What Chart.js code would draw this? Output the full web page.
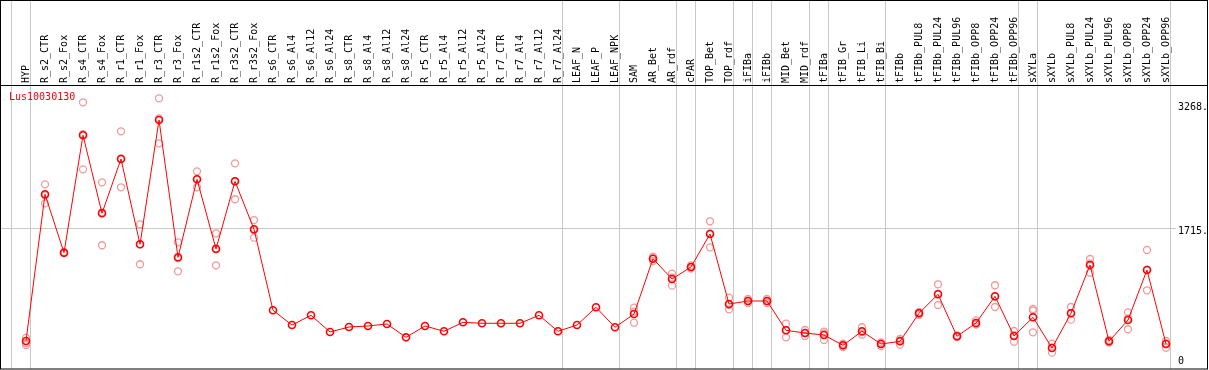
<!DOCTYPE html>
<html>
<head>
<meta charset="utf-8">
<script src="https://cdn.jsdelivr.net/npm/chart.js@4"></script>
<style>
  body { margin: 0; background: #fff; }
  #wrap { width: 1209px; height: 370px; position: relative; }
</style>
</head>
<body>
<div id="wrap"><canvas id="exprChart"></canvas></div>
<script>
// categories (samples)
const samples = ["HYP", "R_s2_CTR", "R_s2_Fox", "R_s4_CTR", "R_s4_Fox", "R_r1_CTR", "R_r1_Fox",
  "R_r3_CTR", "R_r3_Fox", "R_r1s2_CTR", "R_r1s2_Fox", "R_r3s2_CTR", "R_r3s2_Fox",
  "R_s6_CTR", "R_s6_Al4", "R_s6_Al12", "R_s6_Al24", "R_s8_CTR", "R_s8_Al4", "R_s8_Al12", "R_s8_Al24",
  "R_r5_CTR", "R_r5_Al4", "R_r5_Al12", "R_r5_Al24", "R_r7_CTR", "R_r7_Al4", "R_r7_Al12", "R_r7_Al24",
  "LEAF_N", "LEAF_P", "LEAF_NPK", "SAM", "AR_Bet", "AR_rdf", "cPAR", "TOP_Bet", "TOP_rdf",
  "iFIBa", "iFIBb", "MID_Bet", "MID_rdf", "tFIBa", "tFIB_Gr", "tFIB_Li", "tFIB_Bi", "tFIBb",
  "tFIBb_PUL8", "tFIBb_PUL24", "tFIBb_PUL96", "tFIBb_OPP8", "tFIBb_OPP24", "tFIBb_OPP96",
  "sXYLa", "sXYLb", "sXYLb_PUL8", "sXYLb_PUL24", "sXYLb_PUL96", "sXYLb_OPP8", "sXYLb_OPP24", "sXYLb_OPP96"];

// mean expression
const meanValues = [303, 2140, 1409, 2879, 1902, 2582, 1514, 3071, 1351, 2328, 1455, 2303, 1702,
  688, 503, 625, 416, 478, 491, 516, 349, 491, 425, 537, 525, 525, 525, 625, 425,
  503, 725, 475, 641, 1334, 1079, 1230, 1643, 766, 804, 804, 437, 403, 378, 249, 425, 265, 299,
  650, 888, 362, 528, 863, 366, 600, 215, 650, 1255, 299, 566, 1192, 265];

// replicates (null = not shown)
const rep1 = [341, 2265, 1418, 3292, 2290, 2929, 1764, 3342, 1539, 2428, 1652, 2528, 1818,
  null, null, null, null, null, null, null, null, null, null, null, null, null, null, null, null,
  null, null, null, 720, 1359, 1146, 1249, 1802, 845, 829, 829, 520, 441, 420, 269, 475, 240, 328,
  629, 1013, 372, 562, 1001, 428, 704, 269, 729, 1330, 316, 662, 1443, 303];
const rep2 = [253, 2027, 1405, 2453, 1502, 2228, 1264, 2779, 1176, 2228, 1251, 2078, 1597,
  null, null, null, null, null, null, null, null, null, null, null, null, null, null, null, null,
  null, null, null, 532, 1305, 996, 1211, 1476, 700, 779, 779, 349, 366, 316, 228, 382, 284, 257,
  666, 754, 353, 512, 729, 294, 412, 157, 570, 1158, 284, 450, 938, 219];
const rep3 = [278, 2128, 1405, 2892, 1915, 2590, 1514, 3091, 1339, 2328, 1463, 2303, 1691,
  null, null, null, null, null, null, null, null, null, null, null, null, null, null, null, null,
  null, null, null, 671, 1337, 1097, 1230, 1651, 754, 804, 804, 442, 403, 399, 249, 416, 272, 312,
  654, 897, 362, 511, 859, 374, 684, 220, 651, 1276, 299, 586, 1196, 274];

// right side tick labels
const tickValues = [3268, 1715, 0];
const tickLabels = ["3268.", "1715.", "0"];

// last sample of each group (separator lines)
const groupEnds = [-1, 0, 28, 31, 34, 35, 37, 38, 39, 41, 42, 45, 52, 53, 60];

const geneName = "Lus10030130";

function toPoints(arr) {
  return arr.map((v, i) => ({ x: i, y: v })).filter(p => p.y !== null);
}

const repStyle = {
  type: 'line',
  showLine: false,
  pointRadius: 3.5,
  pointBorderWidth: 1.3,
  pointBorderColor: '#f09a9a',
  pointBackgroundColor: 'rgba(0,0,0,0)'
};

const framePlugin = {
  id: 'framePlugin',
  beforeDatasetsDraw(chart) {
    const ctx = chart.ctx;
    const xs = chart.scales.x;
    const ys = chart.scales.y;
    ctx.save();
    ctx.strokeStyle = '#c8c8c8';
    ctx.lineWidth = 1;
    groupEnds.forEach(g => {
      const px = Math.round(xs.getPixelForValue(g + 0.23)) + 0.5;
      ctx.beginPath();
      ctx.moveTo(px, 0);
      ctx.lineTo(px, 369);
      ctx.stroke();
    });
    const gy = Math.round(ys.getPixelForValue(1715)) + 0.5;
    ctx.beginPath();
    ctx.moveTo(1, gy);
    ctx.lineTo(1176, gy);
    ctx.stroke();
    ctx.restore();
  },
  afterDraw(chart) {
    const ctx = chart.ctx;
    const xs = chart.scales.x;
    const ys = chart.scales.y;
    ctx.save();
    ctx.strokeStyle = '#000';
    ctx.lineWidth = 1;
    ctx.strokeRect(0.5, 0.5, 1207, 368.5);
    ctx.beginPath();
    ctx.moveTo(0, 85.5);
    ctx.lineTo(1208, 85.5);
    ctx.stroke();

    // rotated sample names
    ctx.fillStyle = '#000';
    ctx.font = '10px "DejaVu Sans Mono"';
    ctx.textAlign = 'left';
    ctx.textBaseline = 'middle';
    samples.forEach((s, i) => {
      ctx.save();
      ctx.translate(xs.getPixelForValue(i), 83);
      ctx.rotate(-Math.PI / 2);
      ctx.fillText(s, 0, 0);
      ctx.restore();
    });

    // right labels
    tickValues.forEach((v, k) => {
      const py = ys.getPixelForValue(v) + (v === 0 ? -3.5 : 3.5);
      ctx.fillText(tickLabels[k], 1178, py);
    });

    ctx.fillStyle = '#ff0000';
    ctx.fillText(geneName, 9, 97);
    ctx.restore();
  }
};

const exprCtx = document.getElementById('exprChart').getContext('2d');
const exprChart = new Chart(exprCtx, {
  type: 'line',
  data: {
    datasets: [{
      label: 'mean',
      data: toPoints(meanValues),
      borderColor: '#ff0000',
      borderWidth: 1,
      pointRadius: 3.5,
      pointBorderWidth: 1.6,
      pointBorderColor: '#ff0000',
      pointBackgroundColor: 'rgba(0,0,0,0)',
      tension: 0
    },
    Object.assign({ label: 'rep1', data: toPoints(rep1) }, repStyle),
    Object.assign({ label: 'rep2', data: toPoints(rep2) }, repStyle),
    Object.assign({ label: 'rep3', data: toPoints(rep3) }, repStyle)]
  },
  options: {
    responsive: true,
    maintainAspectRatio: false,
    animation: false,
    layout: { autoPadding: false, padding: { left: 1, right: 2, top: 85, bottom: 1 } },
    plugins: { legend: { display: false }, tooltip: { enabled: false } },
    scales: {
      x: { type: 'linear', display: false, min: -1.316, max: 62.158 },
      y: { type: 'linear', display: false, min: -47.6, max: 3509 }
    }
  },
  plugins: [framePlugin]
});
</script>
</body>
</html>
